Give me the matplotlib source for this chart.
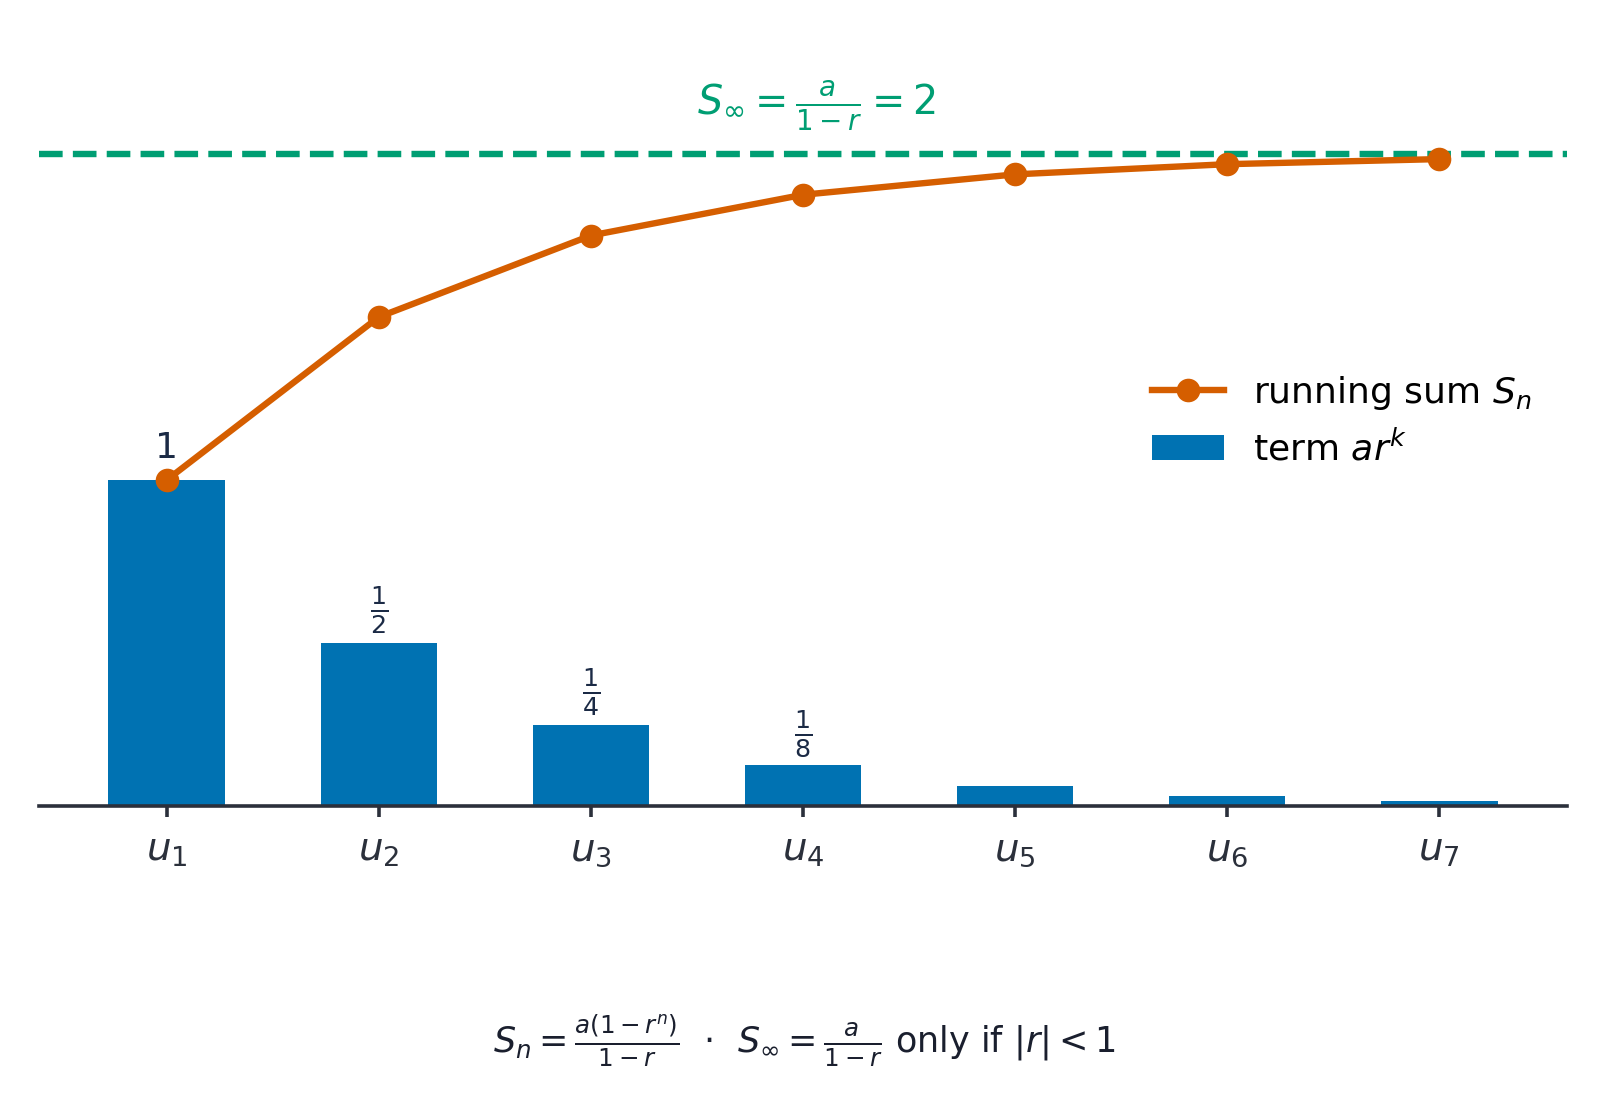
import matplotlib
matplotlib.use("Agg")
import matplotlib.pyplot as plt
import numpy as np

labels = [r"$u_1$", r"$u_2$", r"$u_3$", r"$u_4$", r"$u_5$", r"$u_6$", r"$u_7$"]
terms = [1, 1/2, 1/4, 1/8, 1/16, 1/32, 1/64]
running = [1, 1.5, 1.75, 1.875, 1.9375, 1.96875, 1.984375]
bar_texts = [r"1", r"$\frac{1}{2}$", r"$\frac{1}{4}$", r"$\frac{1}{8}$", "", "", ""]
limit = 2

BLUE = "#0072B2"
ORANGE = "#D55E00"
GREEN = "#009E73"
DARK = "#1b2a45"
AX = "#2b303b"

W, H = 1608, 1110
fig = plt.figure(figsize=(W/200, H/200), dpi=200)
ax = fig.add_axes([39/W, 304/H, 1528/W, (326*2.3)/H])
x = np.arange(len(terms))
ax.bar(x, terms, width=0.55, color=BLUE, label=r"term $ar^k$", zorder=2)
ax.plot(x, running, color=ORANGE, lw=2.3, marker="o", ms=7.5, label=r"running sum $S_n$", zorder=3)
ax.axhline(limit, color=GREEN, lw=2.3, ls="--", zorder=1)
ax.text(3.063, 2.065, r"$S_\infty = \frac{a}{1-r} = 2$", color=GREEN, fontsize=14.3,
        ha="center", va="bottom")

for i, (t, s) in enumerate(zip(terms, bar_texts)):
    if not s:
        continue
    if i == 0:
        ax.text(i, t + 0.045, s, ha="center", va="bottom", fontsize=13, color=DARK)
    else:
        ax.text(i, t + 0.02, s, ha="center", va="bottom", fontsize=13, color=DARK)

ax.set_xlim(-0.6025, 6.6025)
ax.set_ylim(0, 2.3)
ax.set_xticks(x)
ax.set_xticklabels(labels, fontsize=14, color=AX)
ax.set_yticks([])
for sp in ["left", "right", "top"]:
    ax.spines[sp].set_visible(False)
ax.spines["bottom"].set_color(AX)
ax.spines["bottom"].set_linewidth(1.3)
ax.tick_params(axis="x", colors=AX, length=4, width=1.3, pad=5)
for lab in ax.get_xticklabels():
    lab.set_color(AX)

h, l = ax.get_legend_handles_labels()
ax.legend(h, l, loc="center left", bbox_to_anchor=(1152/W, (H-420.5)/H),
          bbox_transform=fig.transFigure, frameon=False, fontsize=13, borderpad=0,
          borderaxespad=0)

fig.text(0.5, (H-1041)/H,
         r"$S_n = \frac{a(1-r^n)}{1-r}$  $\cdot$  $S_\infty = \frac{a}{1-r}$ only if $|r| < 1$",
         ha="center", va="center", fontsize=12.6, color="#1a1f2e")

fig.savefig("out.png", dpi=200)
